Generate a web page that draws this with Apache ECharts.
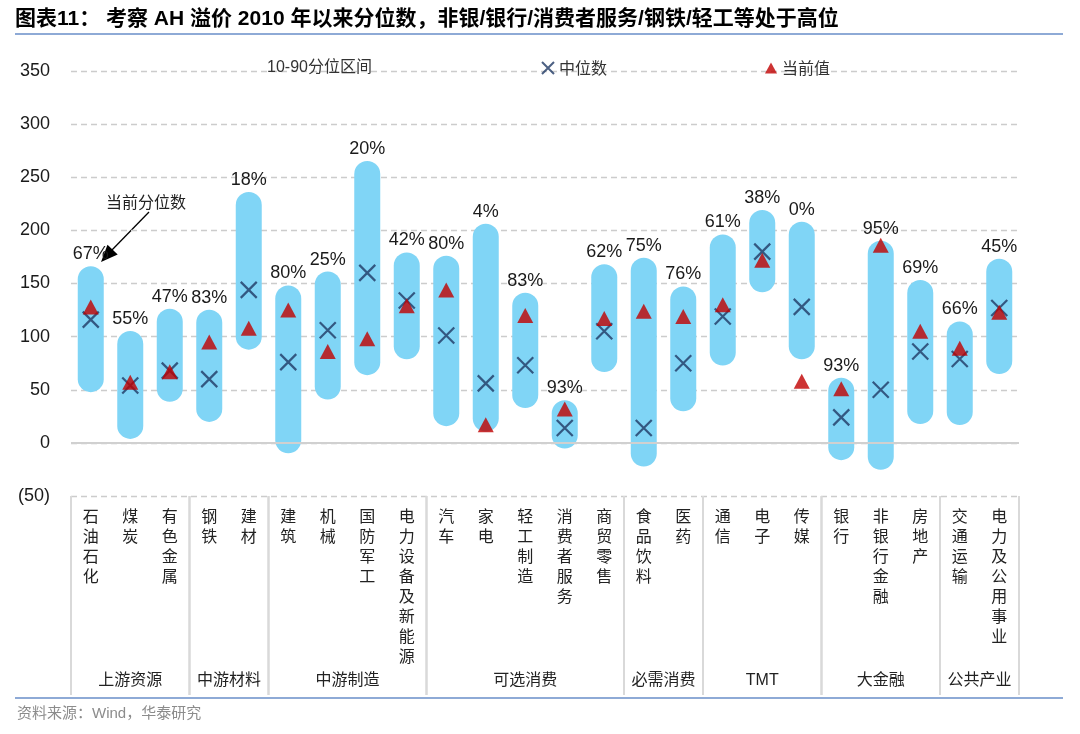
<!DOCTYPE html>
<html>
<head>
<meta charset="utf-8">
<script src="https://cdn.jsdelivr.net/npm/echarts@6/dist/echarts.min.js"></script>
<style>html,body{margin:0;padding:0;background:#fff;}#c{width:1080px;height:734px;}</style>
</head>
<body>
<div id="c"></div>
<script>
const categories = ['石油石化','煤炭','有色金属','钢铁','建材','建筑','机械','国防军工','电力设备及新能源','汽车','家电','轻工制造','消费者服务','商贸零售','食品饮料','医药','通信','电子','传媒','银行','非银行金融','房地产','交通运输','电力及公用事业'];
const p10 = [60,16,51,32,100,2.5,53,76,91,28,23,45,7,79,-10,42,85,154,91,-4,-13,30,29,77];
const p90 = [154,93,114,113,224,136,149,253,167,164,194,129,28,156,162,135,184,207,196,49,178,141,102,161];
const median = [116,54,68,60,144,76,106,160,134,101,56,73,14,105,14,75,119,180,128,24,50,86,79,127];
const current = [128,57,67,95,108,125,86,98,129,144,17,120,32,117,124,119,130,172,58,51,186,105,89,123];
const pctLabels = ['67%','55%','47%','83%','18%','80%','25%','20%','42%','80%','4%','83%','93%','62%','75%','76%','61%','38%','0%','93%','95%','69%','66%','45%'];
const groupNames = ['上游资源','中游材料','中游制造','可选消费','必需消费','TMT','大金融','公共产业'];
const groupStart = [0,3,5,9,14,16,19,22];
const groupEnd = [2,4,8,13,15,18,21,23];
const yTicks = {min:-50, max:350, interval:50};

const LATIN = '"Liberation Sans", Arial, sans-serif';
const CJK = '"Noto Sans CJK SC", sans-serif';
const MIX = '"Liberation Sans", "Noto Sans CJK SC", sans-serif';
const BAR_W = 26;
const X_PATH = 'path://M0,0L16,16M16,0L0,16';

const chart = echarts.init(document.getElementById('c'), null, {renderer:'canvas'});

const option = {
  animation: false,
  backgroundColor: '#fff',
  grid: {left:71, right:61, top:71, bottom:238, containLabel:false},
  legend: [
    {data:[{name:'10-90分位区间', icon:'none'}], left:250, top:60, padding:0, itemWidth:12, itemHeight:12, itemGap:5,
     textStyle:{fontSize:16, fontFamily:MIX, color:'#333'}},
    {data:[{name:'中位数', icon:X_PATH}], left:541, top:60, padding:0, itemWidth:12, itemHeight:12, itemGap:5,
     textStyle:{fontSize:16, fontFamily:CJK, color:'#333'}},
    {data:[{name:'当前值', icon:'triangle'}], left:765, top:60, padding:0, itemWidth:12, itemHeight:11, itemGap:5,
     textStyle:{fontSize:16, fontFamily:CJK, color:'#333'}}
  ],
  xAxis: {
    type:'category', data:categories, boundaryGap:true,
    axisLine:{show:false}, axisTick:{show:false},
    axisLabel:{interval:0, margin:10, fontSize:16, lineHeight:20, fontFamily:CJK, color:'#222',
      formatter: v => v.split('').join('\n')}
  },
  yAxis: {
    type:'value', min:yTicks.min, max:yTicks.max, interval:yTicks.interval,
    axisLine:{show:false}, axisTick:{show:false},
    splitLine:{show:true, lineStyle:{color:'#cccccc', type:[6,4], width:1.3}},
    axisLabel:{margin:21, fontSize:18, fontFamily:LATIN, color:'#1a1a1a',
      formatter: v => v < 0 ? '(' + Math.abs(v) + ')' : String(v)}
  },
  graphic: [
    {type:'text', left:15, top:9, style:{text:'图表11： 考察 AH 溢价 2010 年以来分位数，非银/银行/消费者服务/钢铁/轻工等处于高位',
      fontSize:21, fontWeight:'bold', fontFamily:MIX, fill:'#000'}},
    {type:'line', shape:{x1:15, y1:34, x2:1063, y2:34}, style:{stroke:'#8eaad6', lineWidth:2}},
    {type:'line', shape:{x1:15, y1:698, x2:1063, y2:698}, style:{stroke:'#8eaad6', lineWidth:2}},
    {type:'text', left:17, top:706, style:{text:'资料来源：Wind，华泰研究', fontSize:15, fontFamily:MIX, fill:'#8c8c8c'}},
    {type:'text', left:106, top:194, style:{text:'当前分位数', fontSize:16, fontFamily:CJK, fill:'#222'}},
    {type:'line', shape:{x1:149, y1:212, x2:110, y2:252}, style:{stroke:'#000', lineWidth:1.3}},
    {type:'polygon', shape:{points:[[101,262],[117.7,254.4],[107.5,244.8]]}, style:{fill:'#000'}}
  ],
  series: [
    {
      name:'zero', type:'line', data:[], z:1, silent:true,
      markLine:{silent:true, symbol:'none', label:{show:false},
        lineStyle:{color:'#d0d0d0', type:'solid', width:2}, data:[{yAxis:0}]}
    },
    {
      name:'10-90分位区间', type:'custom', z:3,
      encode:{x:0, y:[1,2]},
      data: categories.map((c,i)=>[i, p10[i], p90[i]]),
      itemStyle:{color:'#80d5f6'},
      renderItem: function(params, api){
        const i = api.value(0);
        const a = api.coord([i, api.value(1)]);
        const b = api.coord([i, api.value(2)]);
        return {type:'group', children:[
          {type:'line', shape:{x1:a[0], y1:a[1], x2:b[0], y2:b[1]},
           style:{stroke:'#80d5f6', lineWidth:BAR_W, lineCap:'round'}},
          {type:'text', x:b[0], y:b[1]-BAR_W/2-3,
           style:{text:pctLabels[params.dataIndex], align:'center', verticalAlign:'bottom',
             fontSize:18, fontFamily:LATIN, fill:'#1a1a1a'}}
        ]};
      }
    },
    {
      name:'中位数', type:'scatter', z:4,
      symbol:X_PATH, symbolSize:16,
      itemStyle:{color:'#1f3864', borderColor:'#1f3864', borderWidth:2.2},
      data: categories.map((c,i)=>[i, median[i]])
    },
    {
      name:'当前值', type:'scatter', z:5,
      symbol:'triangle', symbolSize:[16,15],
      itemStyle:{color:'#c00000'},
      data: categories.map((c,i)=>[i, current[i]])
    },
    {
      name:'groups', type:'custom', z:2, silent:true,
      encode:{x:0, y:1},
      data: groupStart.map((s,k)=>[s, groupEnd[k]]),
      renderItem: function(params, api){
        const s = api.value(0), e = api.value(1);
        const bw = api.size([1,0])[0];
        const p0 = api.coord([s, yTicks.min]);
        const p1 = api.coord([e, yTicks.min]);
        const left = p0[0] - bw/2, right = p1[0] + bw/2, y0 = p0[1];
        return {type:'group', children:[
          {type:'line', shape:{x1:left, y1:y0, x2:left, y2:y0+199}, style:{stroke:'#d9d9d9', lineWidth:2}},
          {type:'line', shape:{x1:right, y1:y0, x2:right, y2:y0+199}, style:{stroke:'#d9d9d9', lineWidth:2}},
          {type:'text', x:(left+right)/2, y:y0+185,
           style:{text:groupNames[params.dataIndex], align:'center', verticalAlign:'middle',
             fontSize:16, fontFamily:MIX, fill:'#222'}}
        ]};
      }
    }
  ]
};
chart.setOption(option);
</script>
</body>
</html>
